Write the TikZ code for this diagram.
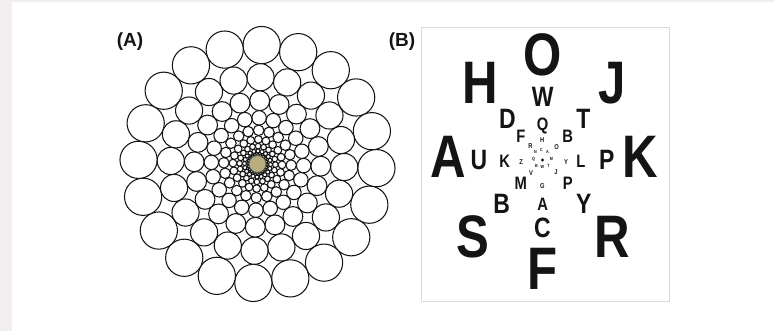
\documentclass[tikz,border=0pt]{standalone}
\usepackage{fontspec}
\newfontfamily\Lf{Liberation Sans}[FakeStretch=0.82]
\newfontfamily\Pf{Liberation Sans}
\definecolor{bggrey}{RGB}{242,238,237}
\definecolor{framegrey}{RGB}{218,218,218}
\definecolor{olive}{RGB}{182,175,125}
\definecolor{ink}{RGB}{20,20,20}
\tikzset{
  ltr/.style={anchor=base, inner sep=0pt, outer sep=0pt, text=ink},
  ringA/.style={ltr, font=\Lf\bfseries\fontsize{60}{60}\selectfont},
  ringB/.style={ltr, font=\Lf\bfseries\fontsize{28}{28}\selectfont},
  ringC/.style={ltr, font=\Lf\bfseries\fontsize{18}{18}\selectfont},
  ringD/.style={ltr, font=\Lf\bfseries\fontsize{7}{7}\selectfont},
  ringE/.style={ltr, font=\Lf\bfseries\fontsize{4.5}{4.5}\selectfont},
  panellabel/.style={anchor=base, inner sep=0pt, font=\Pf\bfseries\fontsize{19}{19}\selectfont, text=ink},
  cell/.style={draw=ink, line width=1.05pt, fill=white}
}
\begin{document}
\begin{tikzpicture}[x=1pt,y=-1pt]
\useasboundingbox (0,0) rectangle (774,331);
\fill[bggrey] (0,0) rectangle (774,331);
\fill[white] (12,2) rectangle (774,331);

% ---------- Panel A: log-polar array of circles ----------
\coordinate (cA) at (257.5,164);
\foreach \k in {0,...,8}{
  \pgfmathsetmacro\R{119/(1.371^\k)}
  \pgfmathsetmacro\r{\R*0.1564}
  \foreach \i in {0,...,19}{
    \pgfmathsetmacro\t{88-18*\i}
    \draw[cell] ([shift={({\R*cos(\t)},{-\R*sin(\t)})}]cA) circle[radius=\r pt];
  }
}
\fill[olive, draw=ink!70, line width=0.8pt] (cA) circle[radius=8.5pt];

\node[panellabel] (labA) at (130,46.7) {(A)};
\node[panellabel] (labB) at (402,46.7) {(B)};

% ---------- Panel B: letter chart ----------
\draw[framegrey, line width=0.9pt] (421.7,27.3) rectangle (669,301);

% outer ring
\node[ringA] (aO) at (542.5,75.5) {O};
\node[ringA] (aH) at (480.3,104) {H};
\node[ringA] (aJ) at (612,104) {J};
\node[ringA] (aA) at (448.3,178) {A};
\node[ringA] (aK) at (640,178) {K};
\node[ringA] (aS) at (472.5,257.5) {S};
\node[ringA] (aR) at (612.5,258) {R};
\node[ringA] (aF) at (542.5,290) {F};

% second ring
\node[ringB] (bW) at (542.7,106.7) {W};
\node[ringB] (bD) at (507.3,128.3) {D};
\node[ringB] (bT) at (583.3,128.3) {T};
\node[ringB] (bU) at (479,169.5) {U};
\node[ringB] (bP) at (606.7,170) {P};
\node[ringB] (bB) at (501.7,213.3) {B};
\node[ringB] (bY) at (583.8,213.3) {Y};
\node[ringB] (bC) at (542.5,237.5) {C};

% third ring
\node[ringC] (cQ) at (542.5,131) {Q};
\node[ringC] (cF) at (521,142.7) {F};
\node[ringC] (cB) at (567.7,142.7) {B};
\node[ringC] (cK) at (504.7,167.7) {K};
\node[ringC] (cL) at (580.8,167.7) {L};
\node[ringC] (cM) at (520.7,190) {M};
\node[ringC] (cP) at (567.7,190) {P};
\node[ringC] (cA2) at (542.8,210.7) {A};

% fourth ring
\node[ringD] (dH) at (542.3,142.5) {H};
\node[ringD] (dO) at (556.5,149.5) {O};
\node[ringD] (dY) at (566,164.2) {Y};
\node[ringD] (dJ) at (556,175) {J};
\node[ringD] (dG) at (542.3,188.5) {G};
\node[ringD] (dV) at (531,175.5) {V};
\node[ringD] (dZ) at (521,164.2) {Z};
\node[ringD] (dR) at (530.5,148.5) {R};

% fifth ring
\node[ringE] (eN) at (535.5,154) {N};
\node[ringE] (eC) at (541.5,152) {C};
\node[ringE] (eA) at (547.5,154) {A};
\node[ringE] (eM) at (551.5,161) {M};
\node[ringE] (eT) at (548.5,167.5) {T};
\node[ringE] (eW) at (542.3,169) {W};
\node[ringE] (eB) at (536.5,167.5) {B};
\node[ringE] (eQ) at (533.5,161) {Q};

\fill[ink] (542.5,160) circle[radius=1.7pt];
\end{tikzpicture}
\end{document}
